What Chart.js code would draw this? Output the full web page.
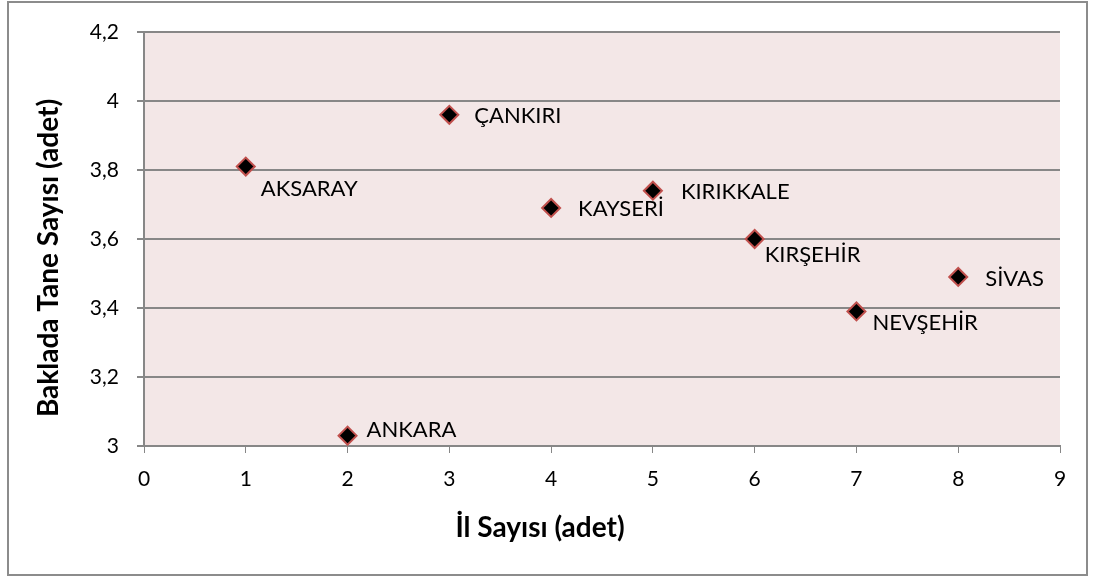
<!DOCTYPE html>
<html>
<head>
<meta charset="utf-8">
<script src="https://cdn.jsdelivr.net/npm/chart.js@4"></script>
<style>
  html, body { margin: 0; padding: 0; background: #fff; }
</style>
</head>
<body>
<canvas id="myChartBaklada" width="1094" height="578"></canvas>
<script>
// iller ve baklada tane sayisi
const provinces = ['AKSARAY', 'ANKARA', 'ÇANKIRI', 'KAYSERİ', 'KIRIKKALE', 'KIRŞEHİR', 'NEVŞEHİR', 'SİVAS']
const ilNo = [1, 2, 3, 4, 5, 6, 7, 8]
const taneSayisi = [3.81, 3.03, 3.96, 3.69, 3.74, 3.60, 3.39, 3.49]
const xTickLabels = ['0', '1', '2', '3', '4', '5', '6', '7', '8', '9']
const yTickLabels = ['3', '3,2', '3,4', '3,6', '3,8', '4', '4,2']
const xTitle = 'İl Sayısı (adet)'
const yTitle = 'Baklada Tane Sayısı (adet)'

// label placement next to each point (dx, dy in px)
const labelOffsets = [[15, 22], [19, -6], [25, 1], [27, 1], [28, 1], [10, 16], [16, 11], [27, 2]]

const FONT = 'Lato'
const gridGray = '#878787'

const bgPlugin = {
    id: 'bgPlugin',
    beforeDraw(chart) {
        const { ctx, chartArea } = chart
        ctx.save()
        ctx.fillStyle = '#fff'
        ctx.fillRect(0, 0, chart.width, chart.height)
        ctx.fillStyle = '#F3E7E7'
        ctx.fillRect(chartArea.left, chartArea.top, chartArea.right - chartArea.left, chartArea.bottom - chartArea.top)
        ctx.strokeStyle = '#8c8c8c'
        ctx.lineWidth = 2
        ctx.strokeRect(8, 2, 1079, 573)
        ctx.restore()
    }
}

const labelPlugin = {
    id: 'labelPlugin',
    afterDatasetsDraw(chart) {
        const { ctx } = chart
        const meta = chart.getDatasetMeta(0)
        ctx.save()
        ctx.font = '22px ' + FONT
        ctx.fillStyle = '#000'
        ctx.textAlign = 'left'
        ctx.textBaseline = 'middle'
        meta.data.forEach((pt, i) => {
            ctx.fillText(provinces[i], pt.x + labelOffsets[i][0], pt.y + labelOffsets[i][1])
        })
        ctx.restore()
    },
    afterDraw(chart) {
        // axis titles
        const { ctx } = chart
        ctx.save()
        ctx.font = 'bold 28px ' + FONT
        ctx.fillStyle = '#000'
        ctx.textAlign = 'center'
        ctx.textBaseline = 'middle'
        ctx.fillText(xTitle, 540, 528)
        ctx.translate(49, 258)
        ctx.rotate(-Math.PI / 2)
        ctx.fillText(yTitle, 0, 0)
        ctx.restore()
    }
}

const ctx = document.getElementById('myChartBaklada')
const myChartBaklada = new Chart(ctx, {
    type: 'scatter',
    data: {
        datasets: [{
            label: 'Baklada Tane Sayısı',
            data: ilNo.map((x, i) => ({ x: x, y: taneSayisi[i] })),
            pointStyle: 'rectRot',
            pointRadius: 9,
            pointHoverRadius: 9,
            backgroundColor: '#000000',
            borderColor: '#C0504D',
            borderWidth: 2
        }]
    },
    options: {
        responsive: false,
        animation: false,
        devicePixelRatio: 1,
        layout: { padding: { left: 0, top: 32, right: 34, bottom: 0 } },
        plugins: {
            legend: { display: false },
            tooltip: { enabled: false }
        },
        scales: {
            x: {
                type: 'linear',
                min: 0,
                max: 9,
                afterFit: (scale) => { scale.height = 132 },
                ticks: {
                    stepSize: 1,
                    padding: 14,
                    color: '#000',
                    font: { family: FONT, size: 21 },
                    callback: (v) => xTickLabels[v]
                },
                grid: { drawOnChartArea: false, drawTicks: true, tickLength: 7, color: gridGray },
                border: { display: true, color: gridGray, width: 2 }
            },
            y: {
                type: 'linear',
                min: 3,
                max: 4.2,
                afterFit: (scale) => { scale.width = 144 },
                ticks: {
                    stepSize: 0.2,
                    padding: 18,
                    color: '#000',
                    font: { family: FONT, size: 21 },
                    callback: (v) => yTickLabels[Math.round((v - 3) / 0.2)]
                },
                grid: { drawOnChartArea: true, drawTicks: true, tickLength: 7, color: gridGray, lineWidth: 2 },
                border: { display: true, color: gridGray, width: 2 }
            }
        }
    },
    plugins: [bgPlugin, labelPlugin]
})
</script>
</body>
</html>
